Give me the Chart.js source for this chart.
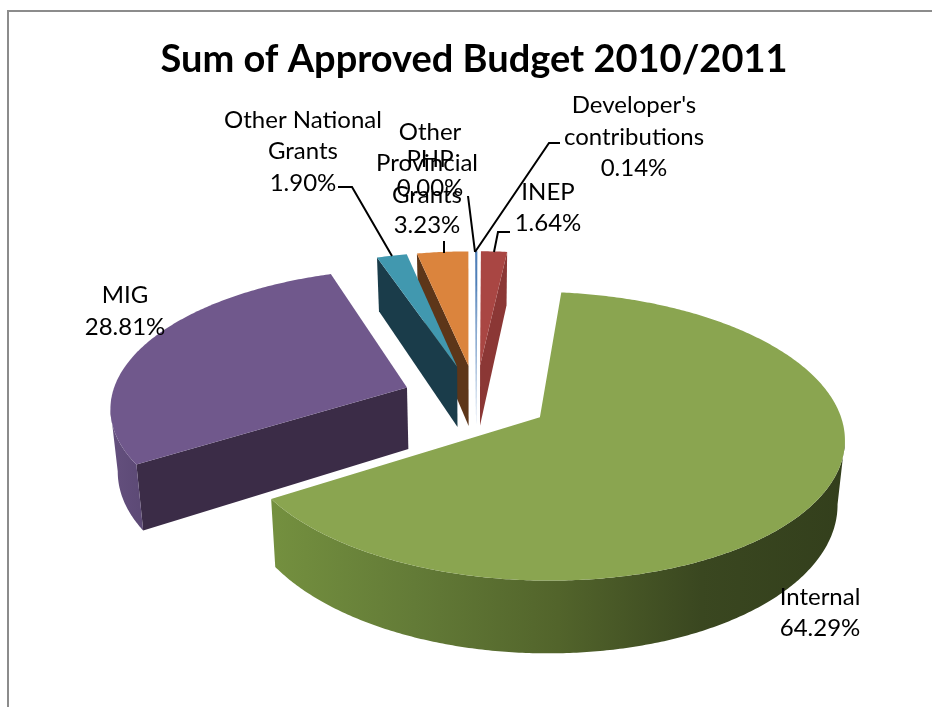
<!DOCTYPE html>
<html>
<head>
<meta charset="utf-8">
<title>Sum of Approved Budget 2010/2011</title>
<style>
  html, body { margin: 0; padding: 0; background: #fff; }
  canvas { display: block; }
</style>
<script src="https://cdn.jsdelivr.net/npm/chart.js@4"></script>
</head>
<body>
<canvas id="chart" width="932" height="707"></canvas>
<script>
// Budget shares, clockwise from the first slice
const categories = ["Internal", "MIG", "Other National Grants", "Provincial Grants", "Other PHP", "Developer's contributions", "INEP"];
const shares = [64.29, 28.81, 1.90, 3.23, 0.00, 0.14, 1.64];

// Slice colours
const topColors = ["#8aa550", "#70588c", "#4198af", "#db843d", "#4f81bd", "#4f7fb8", "#a94643"];
const sideColors = ["#3a4720", "#3b2c47", "#1a3c4a", "#5d3619", "#2a4563", "#7fa2cc", "#8b3735"];
const rimColors = [
  ["#74903f", "#637b37", "#52642b", "#3a4720", "#333f1c"],
  ["#64507e", "#5c4975"],
  ["#1a3c4a"], ["#5d3619"], ["#2a4563"], ["#7fa2cc"], ["#8b3735"]
];

// Projection of the tilted pie: unit-radius slices on a ground plane, seen in perspective
const VIEW = {
  cx: 476, y0: 363, scaleX: 286, scaleY: 128, persp: 0.125, shift: 0.27,
  explode: 0.25, height: 60, floor: 0.98, firstAngle: 6.2
};

function project(X, Y, z) {
  const u = Y + VIEW.shift;
  const d = 1 - VIEW.persp * u;
  const k = z ? VIEW.floor : 1;
  return {
    x: VIEW.cx + k * VIEW.scaleX * X / d,
    y: VIEW.y0 + VIEW.scaleY * u / d + (z ? VIEW.height / d : 0)
  };
}

function polygon(ctx, pts, fill) {
  ctx.beginPath();
  pts.forEach((p, i) => (i ? ctx.lineTo(p.x, p.y) : ctx.moveTo(p.x, p.y)));
  ctx.closePath();
  ctx.fillStyle = fill;
  ctx.fill();
}

// Arc element that renders itself as an exploded solid wedge
class SolidArc extends Chart.ArcElement {
  draw(ctx) {
    const a0 = this.startAngle + Math.PI / 2;
    const a1 = this.endAngle + Math.PI / 2;
    if (a1 - a0 < 1e-5) return;
    const mid = (a0 + a1) / 2;
    const ax = VIEW.explode * Math.sin(mid);
    const ay = -VIEW.explode * Math.cos(mid);
    const rim = (a) => [ax + Math.sin(a), ay - Math.cos(a)];
    const steps = Math.max(2, Math.ceil((a1 - a0) / 0.01));
    const ring = [];
    for (let i = 0; i <= steps; i++) ring.push(rim(a0 + (a1 - a0) * i / steps));

    const apexTop = project(ax, ay, 0);
    const apexBottom = project(ax, ay, 1);
    const side = this.options.borderColor;

    // Radial faces, shown only where they turn towards the viewer
    const startTop = project(ring[0][0], ring[0][1], 0);
    if (startTop.x < apexTop.x) {
      polygon(ctx, [apexTop, startTop, project(ring[0][0], ring[0][1], 1), apexBottom], side);
    }
    const last = ring[ring.length - 1];
    const endTop = project(last[0], last[1], 0);
    if (endTop.x > apexTop.x) {
      polygon(ctx, [apexTop, endTop, project(last[0], last[1], 1), apexBottom], side);
    }

    // Outer curved face: the run of rim segments travelling right to left on screen
    const uppers = [], lowers = [];
    for (let i = 0; i < steps; i++) {
      const p = project(ring[i][0], ring[i][1], 0);
      const q = project(ring[i + 1][0], ring[i + 1][1], 0);
      if (q.x < p.x) {
        if (!uppers.length) {
          uppers.push(p);
          lowers.push(project(ring[i][0], ring[i][1], 1));
        }
        uppers.push(q);
        lowers.push(project(ring[i + 1][0], ring[i + 1][1], 1));
      }
    }
    if (uppers.length) {
      const stops = rimColors[this.$context.dataIndex];
      const xs = uppers.concat(lowers).map((p) => p.x);
      const grad = ctx.createLinearGradient(Math.min(...xs), 0, Math.max(...xs), 0);
      if (stops.length === 1) {
        grad.addColorStop(0, stops[0]);
        grad.addColorStop(1, stops[0]);
      } else {
        stops.forEach((c, i) => grad.addColorStop(i / (stops.length - 1), c));
      }
      polygon(ctx, uppers.concat(lowers.reverse()), grad);
    }

    // Top surface
    polygon(ctx, [apexTop].concat(ring.map((r) => project(r[0], r[1], 0))), this.options.backgroundColor);
  }
}
SolidArc.id = "solidArc";
SolidArc.defaults = Object.assign({}, Chart.ArcElement.defaults);

// Pie controller that paints the far slices before the near ones
class SolidPieController extends Chart.PieController {
  draw() {
    const ctx = this.chart.ctx;
    const arcs = this._cachedMeta.data.slice();
    const depth = (arc) => -Math.cos((arc.startAngle + arc.endAngle) / 2 + Math.PI / 2);
    arcs.sort((a, b) => depth(a) - depth(b));
    arcs.forEach((arc) => arc.draw(ctx));
  }
}
SolidPieController.id = "solidPie";
SolidPieController.defaults = Object.assign({}, Chart.PieController.defaults, { dataElementType: "solidArc" });
SolidPieController.overrides = Chart.PieController.overrides;
Chart.register(SolidArc, SolidPieController);

// Label text lines, one list per category
const labelNames = [
  ["Internal"], ["MIG"], ["Other National", "Grants"], ["Provincial", "Grants"],
  ["Other", "PHP"], ["Developer's", "contributions"], ["INEP"]
];
// Label anchors: centre x and the centre y of each line
const labelSpots = [
  { x: 820, ys: [597, 628] },
  { x: 125, ys: [295, 327] },
  { x: 303, ys: [120, 151, 183] },
  { x: 427, ys: [163, 195, 225] },
  { x: 430, ys: [132, 159, 188] },
  { x: 634, ys: [105, 137, 168] },
  { x: 548, ys: [192, 223] }
];
// Leader lines from labels to their slices
const leaders = [
  [[338, 187], [352, 187], [392, 256]],
  [[444, 241], [444, 253]],
  [[468, 196], [475, 252]],
  [[560, 143], [549, 143], [475, 252]],
  [[510, 232], [498, 232], [494, 252]]
];

const pagePlugin = {
  id: "page",
  beforeDraw(chart) {
    const ctx = chart.ctx;
    ctx.save();
    ctx.fillStyle = "#ffffff";
    ctx.fillRect(0, 0, chart.width, chart.height);
    ctx.strokeStyle = "#8c8c8c";
    ctx.lineWidth = 2;
    ctx.beginPath();
    ctx.moveTo(8, chart.height);
    ctx.lineTo(8, 11);
    ctx.lineTo(chart.width, 11);
    ctx.stroke();
    ctx.restore();
  },
  afterDraw(chart) {
    const ctx = chart.ctx;
    ctx.save();
    ctx.strokeStyle = "#000000";
    ctx.lineWidth = 2;
    leaders.forEach((line) => {
      ctx.beginPath();
      line.forEach((p, i) => (i ? ctx.lineTo(p[0], p[1]) : ctx.moveTo(p[0], p[1])));
      ctx.stroke();
    });
    ctx.fillStyle = "#000000";
    ctx.font = '24px Lato, "Open Sans", sans-serif';
    ctx.textAlign = "center";
    ctx.textBaseline = "middle";
    categories.forEach((name, i) => {
      const lines = labelNames[i].concat(shares[i].toFixed(2) + "%");
      lines.forEach((text, j) => ctx.fillText(text, labelSpots[i].x, labelSpots[i].ys[j]));
    });
    ctx.restore();
  }
};

new Chart(document.getElementById("chart"), {
  type: "solidPie",
  data: {
    labels: categories,
    datasets: [{
      data: shares,
      backgroundColor: topColors,
      borderColor: sideColors,
      borderWidth: 0,
      rotation: VIEW.firstAngle,
      cutout: 0
    }]
  },
  options: {
    responsive: false,
    animation: false,
    layout: { padding: { left: 16 } },
    plugins: {
      legend: { display: false },
      tooltip: { enabled: false },
      title: {
        display: true,
        text: "Sum of Approved Budget 2010/2011",
        color: "#000000",
        font: { family: 'Lato, "Open Sans", sans-serif', size: 38, weight: "bold" },
        padding: { top: 37, bottom: 10 }
      }
    }
  },
  plugins: [pagePlugin]
});
</script>
</body>
</html>
